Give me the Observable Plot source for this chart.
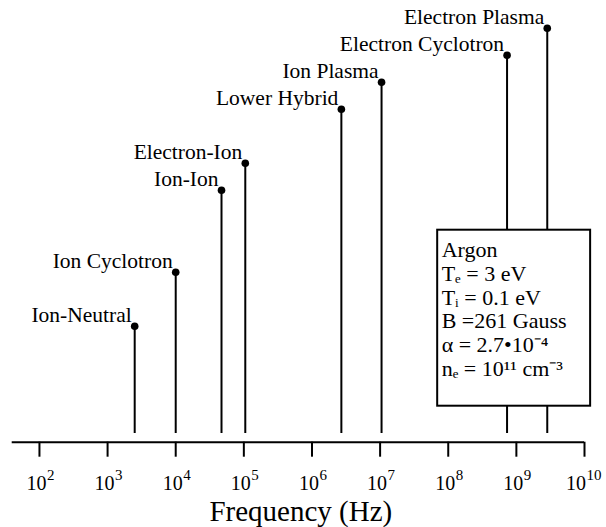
<!DOCTYPE html>
<html>
<head>
<meta charset="utf-8">
<script src="https://cdn.jsdelivr.net/npm/d3@7"></script>
<script src="https://cdn.jsdelivr.net/npm/@observablehq/plot@0.6"></script>
<style>
  html, body { margin: 0; padding: 0; background: #fff; }
  #chart svg { display: block; }
</style>
</head>
<body>
<div id="chart"></div>
<script>
// ---- data ----
const categories = ["Ion-Neutral", "Ion Cyclotron", "Ion-Ion", "Electron-Ion",
                    "Lower Hybrid", "Ion Plasma", "Electron Cyclotron", "Electron Plasma"];
const frequencies = [2.5e3, 1.0e4, 4.7e4, 1.05e5, 2.7e6, 1.05e7, 7.3e8, 2.84e9]; // Hz
const heights = [116, 170, 252, 279, 333, 360, 387, 414]; // relative stem heights
const tickExponents = [2, 3, 4, 5, 6, 7, 8, 9, 10];
const boxLines = ["Argon", "Tₑ = 3 eV", "Tᵢ = 0.1 eV", "B =261 Gauss", "α = 2.7•10⁻⁴", "nₑ = 10¹¹ cm⁻³"];
const xLabel = "Frequency (Hz)";
const boxExtent = [{x1: 7.0e7, x2: 1.23e10, y1: 36, y2: 212}];

const FONT = "'Liberation Serif', 'Times New Roman', serif";
const data = categories.map((name, i) => ({name, f: frequencies[i], h: heights[i]}));
const ticks = tickExponents.map(e => ({e, v: 10 ** e, base: "10", exp: String(e)}));
const oneDigit = ticks.filter(t => t.exp.length === 1);
const twoDigit = ticks.filter(t => t.exp.length === 2);

const chart = Plot.plot({
  width: 606,
  height: 527,
  marginLeft: 11.7,
  marginRight: 22,
  marginTop: 0,
  marginBottom: 85.3,
  style: {fontFamily: FONT, background: "#fff", color: "#000"},
  x: {type: "log", domain: [10 ** 1.6, 1e10], axis: null},
  y: {domain: [0, 441.7], axis: null},
  marks: [
    // baseline axis
    Plot.ruleY([0], {stroke: "#000", strokeWidth: 2}),
    // ticks
    Plot.axisX(ticks.map(t => t.v), {tickSize: 15, strokeWidth: 2, stroke: "#000", tickFormat: () => "", label: null}),
    // tick labels: base "10" and exponent
    Plot.text(oneDigit, {x: "v", text: "base", frameAnchor: "bottom", textAnchor: "end", lineAnchor: "bottom", dx: 7, dy: 48, fontSize: 20, fontFamily: FONT, fill: "#000"}),
    Plot.text(oneDigit, {x: "v", text: "exp", frameAnchor: "bottom", textAnchor: "start", lineAnchor: "bottom", dx: 7.5, dy: 38, fontSize: 15, fontFamily: FONT, fill: "#000"}),
    Plot.text(twoDigit, {x: "v", text: "base", frameAnchor: "bottom", textAnchor: "end", lineAnchor: "bottom", dx: 1.5, dy: 48, fontSize: 20, fontFamily: FONT, fill: "#000"}),
    Plot.text(twoDigit, {x: "v", text: "exp", frameAnchor: "bottom", textAnchor: "start", lineAnchor: "bottom", dx: 2, dy: 38, fontSize: 15, fontFamily: FONT, fill: "#000"}),
    // axis title
    Plot.text([xLabel], {frameAnchor: "bottom", textAnchor: "middle", lineAnchor: "bottom", dx: 2.5, dy: 79, fontSize: 29, fontFamily: FONT, fill: "#000"}),
    // stems
    Plot.ruleX(data, {x: "f", y1: 8.7, y2: "h", stroke: "#000", strokeWidth: 2}),
    // dots
    Plot.dot(data, {x: "f", y: "h", r: 3.8, fill: "#000", stroke: null}),
    // labels
    Plot.text(data, {x: "f", y: "h", text: "name", textAnchor: "end", lineAnchor: "bottom", dx: -3, dy: -4, fontSize: 21.5, fontFamily: FONT, fill: "#000"}),
    // parameter box
    Plot.rect(boxExtent, {x1: "x1", x2: "x2", y1: "y1", y2: "y2", fill: "#fff", stroke: "#000", strokeWidth: 2}),
    Plot.text(boxExtent, {x: "x1", y: "y2", text: () => boxLines.join("\n"), textAnchor: "start", lineAnchor: "top", lineHeight: 1.08, dx: 4, dy: 10, fontSize: 22, fontFamily: FONT, fill: "#000"})
  ]
});
document.getElementById("chart").appendChild(chart);
</script>
</body>
</html>
